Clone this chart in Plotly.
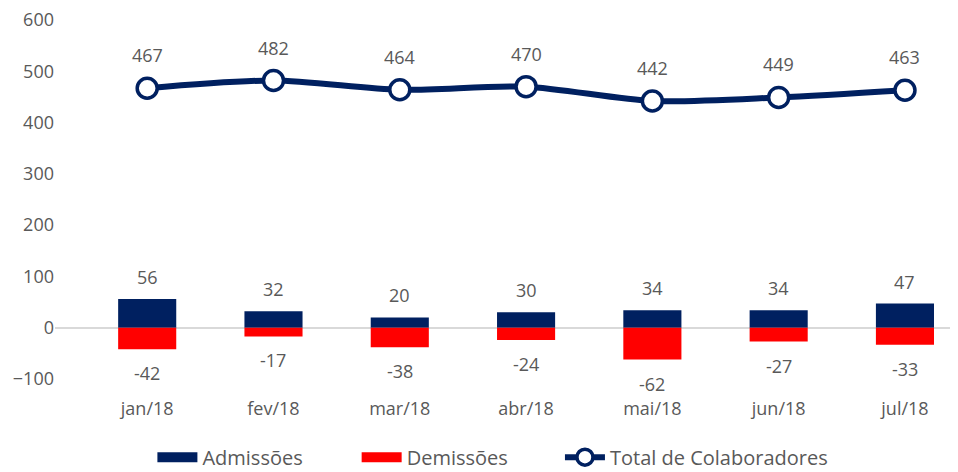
import plotly.graph_objects as go

meses = ["jan/18", "fev/18", "mar/18", "abr/18", "mai/18", "jun/18", "jul/18"]
admissoes = [56, 32, 20, 30, 34, 34, 47]
demissoes = [-42, -17, -38, -24, -62, -27, -33]
total = [467, 482, 464, 470, 442, 449, 463]

NAVY = "#002060"
RED = "#FF0000"
GREY = "#595959"
FONT = "Open Sans"

fig = go.Figure()
fig.add_trace(go.Bar(x=meses, y=admissoes, name="Admissões", marker_color=NAVY,
                     marker_line_width=0, width=0.46, showlegend=False))
fig.add_trace(go.Bar(x=meses, y=demissoes, name="Demissões", marker_color=RED,
                     marker_line_width=0, width=0.46, showlegend=False))
# legend proxies: wide rectangles like the original's bar keys
fig.add_trace(go.Scatter(x=[None], y=[None], mode="lines", name="Admissões",
                         line=dict(color=NAVY, width=13), legend="legend"))
fig.add_trace(go.Scatter(x=[None], y=[None], mode="lines", name="Demissões",
                         line=dict(color=RED, width=13), legend="legend2"))
fig.add_trace(go.Scatter(
    x=meses, y=total, name="Total de Colaboradores", mode="lines+markers",
    line=dict(color=NAVY, width=6, shape="spline", smoothing=0.8),
    marker=dict(size=20, color="white", line=dict(color=NAVY, width=3.5)),
    legend="legend3",
))

annotations = []
for m, a, d, t in zip(meses, admissoes, demissoes, total):
    annotations.append(dict(x=m, y=a, text=str(a), showarrow=False, yshift=22))
    annotations.append(dict(x=m, y=d, text=str(d), showarrow=False, yshift=-24))
    annotations.append(dict(x=m, y=t, text=str(t), showarrow=False, yshift=33))

legend_common = dict(orientation="h", xref="container", xanchor="left",
                     yref="container", y=0.032, yanchor="middle", itemwidth=40,
                     font=dict(size=20, color=GREY))

# page body has an 8px margin, so the figure is 8px smaller and offset
fig.update_layout(
    width=950, height=464,
    margin=dict(l=47, r=0, t=12, b=93, autoexpand=False),
    barmode="relative",
    paper_bgcolor="white", plot_bgcolor="white",
    font=dict(family=FONT, size=18, color=GREY),
    annotations=annotations,
    showlegend=True,
    legend=dict(legend_common, x=0.152),
    legend2=dict(legend_common, x=0.367),
    legend3=dict(legend_common, x=0.581),
    xaxis=dict(range=[-0.73, 6.42], showgrid=False, showline=False, ticks="",
               ticklabelstandoff=17, tickfont=dict(size=18, color=GREY)),
    yaxis=dict(range=[-100, 600], dtick=100, showgrid=False, zeroline=True,
               zerolinecolor="#D9D9D9", zerolinewidth=1.5, showline=False,
               ticklabelstandoff=0, ticklabeloverflow="allow",
               tickfont=dict(size=18, color=GREY)),
)

fig.write_html("out.html")
